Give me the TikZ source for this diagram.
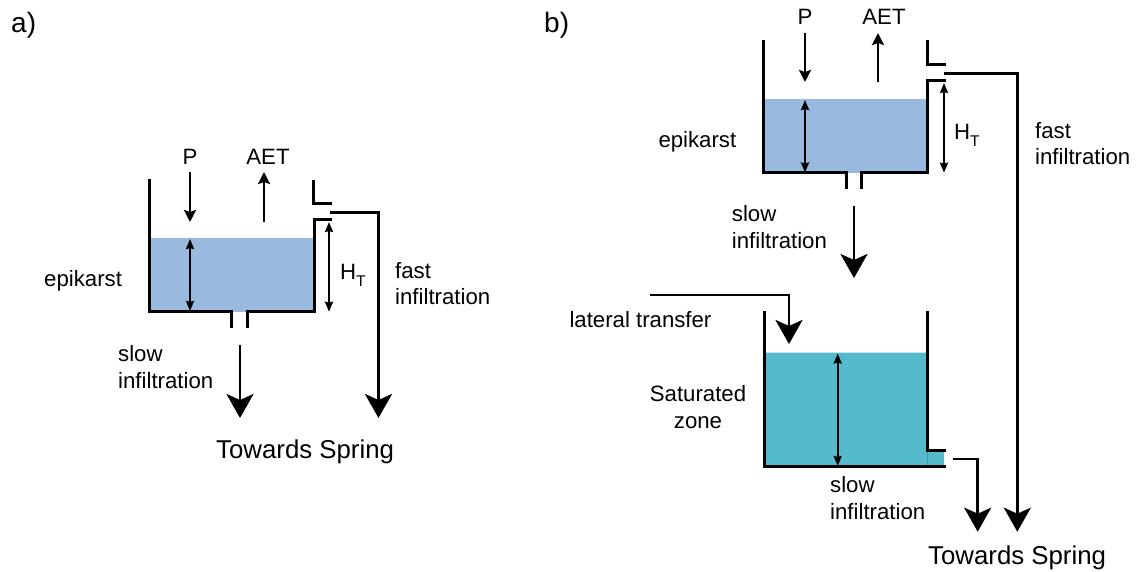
\documentclass[tikz,border=0pt]{standalone}
\usepackage{fontspec}
\setmainfont{Liberation Sans}
\usetikzlibrary{arrows.meta}
\definecolor{epiblue}{HTML}{99B9DF}
\definecolor{satblue}{HTML}{55BACC}
\definecolor{satedge}{HTML}{2A9FB0}
\begin{document}
\begin{tikzpicture}[x=1pt,y=-1pt,
  wall/.style={line width=3pt,line join=miter,line cap=rect},
  flow/.style={line width=2.9pt,-{Stealth[length=24pt,width=27pt,inset=6pt]}},
  small/.style={line width=2.6pt,-{Stealth[length=12pt,width=12pt,inset=2pt]}},
  level/.style={line width=2.2pt,{Stealth[length=10pt,width=8pt,inset=1pt]}-{Stealth[length=10pt,width=8pt,inset=1pt]}},
  lbl/.style={inner sep=0pt,anchor=base west,font=\fontsize{22.2}{27}\selectfont},
  lblc/.style={inner sep=0pt,anchor=base,font=\fontsize{22.2}{27}\selectfont},
  big/.style={inner sep=0pt,anchor=base west,font=\fontsize{25.8}{30}\selectfont},
  panel/.style={inner sep=0pt,anchor=base west,font=\fontsize{28}{32}\selectfont}]
\useasboundingbox (0,0) rectangle (1136,572);
\newcommand{\HT}{H\raisebox{-7pt}{\fontsize{15.5}{15.5}\selectfont T}}

% ---------------- panel a ----------------
\node[panel] (la) at (11,33) {a)};
\fill[epiblue] (149.5,238.3) rectangle (314,311.7);
\draw[wall] (149.5,180.7) -- (149.5,311.7) -- (231.7,311.7) -- (231.7,326.7);
\draw[wall] (247.3,326.7) -- (247.3,311.7) -- (314,311.7) -- (314,220) -- (330,220);
\draw[wall] (313.3,181.7) -- (313.3,204) -- (330,204);

\coordinate (aPs) at (190,172); \coordinate (aPe) at (190,222);
\coordinate (aEs) at (264,222); \coordinate (aEe) at (264,172);
\draw[small] (aPs) -- (aPe);
\draw[small] (aEs) -- (aEe);
\node[lblc] (aP) at (190,165) {P};
\node[lblc] (aAET) at (268,165) {AET};

\coordinate (aL1) at (190,239); \coordinate (aL2) at (190,311);
\draw[level] (aL1) -- (aL2);
\coordinate (aH1) at (329,222); \coordinate (aH2) at (329,311.7);
\draw[level] (aH1) -- (aH2);
\node[lbl] (aHT) at (340,279.3) {\HT};

\node[lbl] (aEpi) at (44,286.7) {epikarst};
\node[lbl] (aSlow1) at (118,361.7) {slow};
\node[lbl] (aSlow2) at (118,388.3) {infiltration};
\node[lbl] (aFast1) at (395,278.3) {fast};
\node[lbl] (aFast2) at (395,305) {infiltration};

\coordinate (aS1) at (240,345); \coordinate (aS2) at (240,418);
\draw[flow] (aS1) -- (aS2);
\coordinate (aF0) at (330,212.3); \coordinate (aF1) at (378.5,212.3); \coordinate (aF2) at (378.5,418);
\draw[flow,line join=miter] (aF0) -- (aF1) -- (aF2);
\node[big] (aTS) at (216,458.3) {Towards Spring};

% ---------------- panel b ----------------
\node[panel] (lb) at (544,33) {b)};
\fill[epiblue] (763.3,99) rectangle (927.7,172.7);
\draw[wall] (763.3,41.7) -- (763.3,172.7) -- (846.7,172.7) -- (846.7,188);
\draw[wall] (861.7,188) -- (861.7,172.7) -- (927.7,172.7) -- (927.7,81) -- (944,81);
\draw[wall] (927.7,41.7) -- (927.7,65) -- (944,65);

\coordinate (bPs) at (805,33); \coordinate (bPe) at (805,82);
\coordinate (bEs) at (878,82); \coordinate (bEe) at (878,33);
\draw[small] (bPs) -- (bPe);
\draw[small] (bEs) -- (bEe);
\node[lblc] (bP) at (805,25) {P};
\node[lblc] (bAET) at (884,25) {AET};

\coordinate (bL1) at (805,100); \coordinate (bL2) at (805,172.5);
\draw[level] (bL1) -- (bL2);
\coordinate (bH1) at (944,83); \coordinate (bH2) at (944,172.7);
\draw[level] (bH1) -- (bH2);
\node[lbl] (bHT) at (954,140) {\HT};

\node[lbl] (bEpi) at (658.3,147.3) {epikarst};
\node[lbl] (bSlow1) at (731.7,221.7) {slow};
\node[lbl] (bSlow2) at (731.7,248.3) {infiltration};
\node[lbl] (bFast1) at (1035,138.3) {fast};
\node[lbl] (bFast2) at (1035,165) {infiltration};

\coordinate (bS1) at (854,206); \coordinate (bS2) at (854,278);
\draw[flow] (bS1) -- (bS2);

% lower tank
\fill[satblue] (764,352.7) -- (927.7,352.7) -- (927.7,450.7) -- (944,450.7) -- (944,466.7) -- (764,466.7) -- cycle;
\draw[satedge,line width=1pt] (927.7,450.7) -- (927.7,466.7);
\draw[wall] (764,312.3) -- (764,466.7) -- (944,466.7);
\draw[wall] (927.7,312.3) -- (927.7,450.7) -- (944,450.7);
\coordinate (bZ1) at (837.7,353.5); \coordinate (bZ2) at (837.7,466);
\draw[level] (bZ1) -- (bZ2);

\coordinate (bT0) at (650,295); \coordinate (bT1) at (789,295); \coordinate (bT2) at (789,344);
\draw[flow,line join=miter] (bT0) -- (bT1) -- (bT2);
\node[lbl] (bLat) at (569.3,327.3) {lateral transfer};
\node[lblc] (bSat1) at (698,401.7) {Saturated};
\node[lblc] (bSat2) at (698,428.3) {zone};
\node[lbl] (bSlow3) at (830,492.5) {slow};
\node[lbl] (bSlow4) at (830,519) {infiltration};

\coordinate (bO0) at (952.7,459); \coordinate (bO1) at (977.7,459); \coordinate (bO2) at (977.7,531.7);
\draw[flow,line join=miter] (bO0) -- (bO1) -- (bO2);
\coordinate (bF0) at (944,73.3); \coordinate (bF1) at (1017.3,73.3); \coordinate (bF2) at (1017.3,531.7);
\draw[flow,line join=miter] (bF0) -- (bF1) -- (bF2);
\node[big] (bTS) at (928,564) {Towards Spring};
\end{tikzpicture}
\end{document}
